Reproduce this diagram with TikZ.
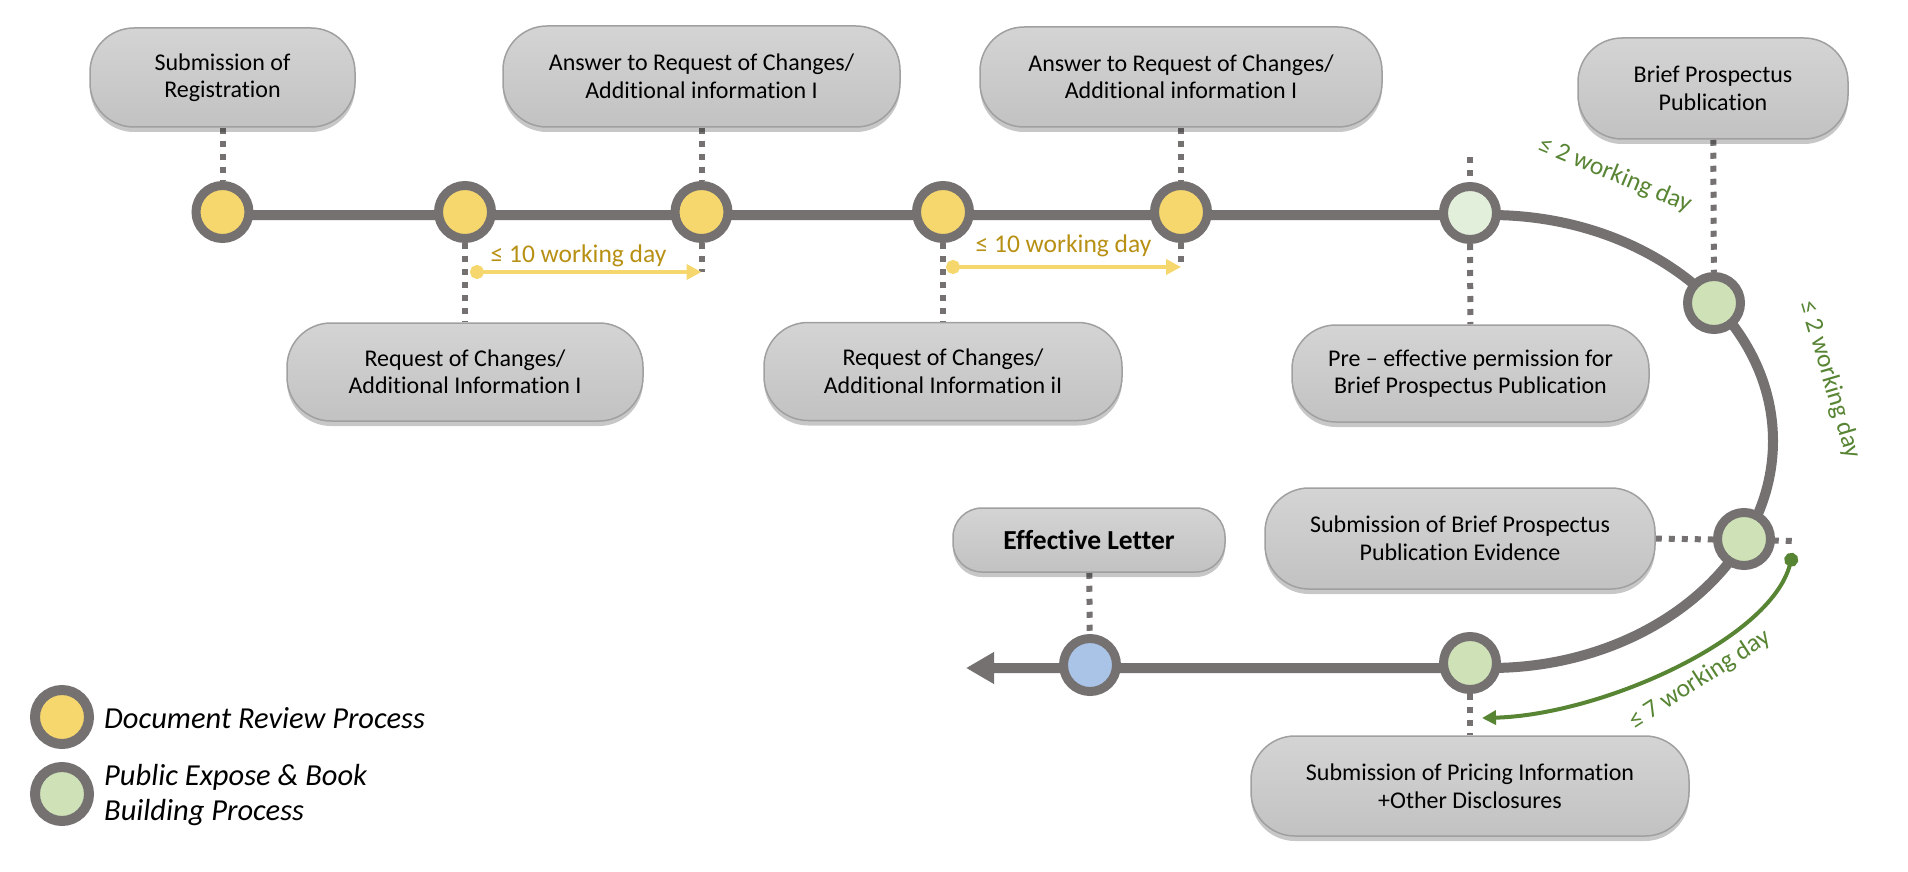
\documentclass[tikz,border=0pt]{standalone}
\usepackage{fontspec}
\setmainfont{Carlito}[Ligatures=NoCommon]
\usetikzlibrary{arrows.meta,shadows}
\definecolor{ring}{RGB}{117,113,113}
\definecolor{yel}{RGB}{245,215,110}
\definecolor{grn}{RGB}{207,225,183}
\definecolor{lgrn}{RGB}{226,239,218}
\definecolor{blu}{RGB}{170,196,232}
\definecolor{gold}{RGB}{184,144,20}
\definecolor{dgreen}{RGB}{88,133,52}
\definecolor{boxtop}{RGB}{212,212,212}
\definecolor{boxbot}{RGB}{194,194,194}
\definecolor{boxline}{RGB}{160,160,160}
\pgfdeclarelayer{back}
\pgfdeclarelayer{lines}
\pgfsetlayers{back,lines,main}
\begin{document}
\begin{tikzpicture}[x=1pt,y=-1pt,
  box/.style={rectangle, rounded corners=44pt, draw=boxline, line width=1.5pt,
    top color=boxtop, bottom color=boxbot, inner sep=0pt, align=center,
    font=\fontsize{24}{27.5}\selectfont, text=black,
    drop shadow={shadow xshift=0pt, shadow yshift=-5pt, opacity=0.22, fill=black}},
  circ/.style={circle, draw=ring, line width=9pt, minimum size=53pt, inner sep=0pt},
  legc/.style={circle, draw=ring, line width=10pt, minimum size=54pt, inner sep=0pt},
  dotl/.style={draw=ring, line width=6pt, dash pattern=on 6pt off 7pt},
  mainl/.style={draw=ring, line width=10pt, line join=round},
  yarrow/.style={draw=yel, line width=4pt, {Circle[length=14pt]}-{Triangle[length=15pt,width=15pt]}},
  garrow/.style={draw=dgreen, line width=4pt, {Circle[length=14pt]}-{Triangle[length=14pt,width=14pt]}},
  lbl/.style={font=\fontsize{25.5}{28}\selectfont, inner sep=0pt},
  legt/.style={font=\itshape\fontsize{30.5}{35}\selectfont, inner sep=0pt, anchor=west, align=left}
]
\begin{pgfonlayer}{back}
\fill[white] (0,0) rectangle (1908,872);
\end{pgfonlayer}
\useasboundingbox (0,0) rectangle (1908,872);

% boxes
\node[box, minimum width=265pt, minimum height=99pt] (b1) at (222.5,77.5) {Submission of\\Registration};
\node[box, minimum width=356pt, minimum height=98pt] (b2) at (465,372) {Request of Changes/\\Additional Information I};
\node[box, minimum width=397pt, minimum height=101pt] (b3) at (701.5,76.5) {Answer to Request of Changes/\\Additional information I};
\node[box, minimum width=358pt, minimum height=98pt] (b4) at (943,371.5) {Request of Changes/\\Additional Information iI};
\node[box, minimum width=402pt, minimum height=100pt] (b5) at (1181,77) {Answer to Request of Changes/\\Additional information I};
\node[box, minimum width=357pt, minimum height=97pt] (b6) at (1470.5,373.5) {Pre -- effective permission for\\Brief Prospectus Publication};
\node[box, minimum width=270pt, minimum height=101pt] (b7) at (1713,88.5) {Brief Prospectus\\Publication};
\node[box, minimum width=390pt, minimum height=101pt] (b8) at (1460,538.5) {Submission of Brief Prospectus\\Publication Evidence};
\node[box, minimum width=272pt, minimum height=64pt, rounded corners=29pt, font=\bfseries\fontsize{27.5}{30}\selectfont] (b9) at (1089,540) {Effective Letter};
\node[box, minimum width=438pt, minimum height=100pt] (b10) at (1470,786) {Submission of Pricing Information\\+Other Disclosures};

% milestone circles
\node[circ, fill=yel] (c1) at (222.5,212) {};
\node[circ, fill=yel] (c2) at (465,212) {};
\node[circ, fill=yel] (c3) at (701.5,212) {};
\node[circ, fill=yel] (c4) at (943,212) {};
\node[circ, fill=yel] (c5) at (1181,212) {};
\node[circ, fill=lgrn] (c6) at (1470,213) {};
\node[circ, fill=grn] (c7) at (1714,303) {};
\node[circ, fill=grn] (c8) at (1744,539) {};
\node[circ, fill=grn] (c9) at (1470,663) {};
\node[circ, fill=blu] (c10) at (1090,665) {};

% free ends
\coordinate (s3) at (701.5,272);
\coordinate (s5) at (1181,267);
\coordinate (s6) at (1470,157);
\coordinate (s8) at (1798,541);
\coordinate (y1) at (470,272);
\coordinate (y2) at (946,267);
\coordinate (g0) at (1793,553);
\coordinate (gt) at (1482,718);
\coordinate (l0) at (222.5,215);
\coordinate (l1) at (1490,215);
\coordinate (l2) at (1773,441);
\coordinate (l3) at (1490,668);
\coordinate (tip) at (966,668);

\begin{pgfonlayer}{lines}
\draw[dotl] (b1) -- (c1);
\draw[dotl] (c2) -- (b2);
\draw[dotl] (b3) -- (c3);
\draw[dotl] (c3) -- (s3);
\draw[dotl] (c4) -- (b4);
\draw[dotl] (b5) -- (c5);
\draw[dotl] (c5) -- (s5);
\draw[dotl] (s6) -- (c6);
\draw[dotl] (c6) -- (b6);
\draw[dotl] (b7) -- (c7);
\draw[dotl] (b8.east) -- (s8);
\draw[dotl] (b9) -- (c10);
\draw[dotl] (c9) -- (b10);
\draw[mainl, -{Triangle[length=28pt,width=30pt]}] (l0) -- (l1)
  .. controls (1646,215) and (1773,316) .. (l2)
  .. controls (1773,566) and (1646,668) .. (l3) -- (tip);
\draw[yarrow] (y1) -- (s3);
\draw[yarrow] (y2) -- (s5);
\draw[garrow] (g0) .. controls (1770,640) and (1600,715) .. (gt);
\end{pgfonlayer}

% labels
\node[lbl, text=gold] (t1) at (578.5,256) {≤ 10 working day};
\node[lbl, text=gold] (t2) at (1063.5,245.5) {≤ 10 working day};
\node[lbl, text=dgreen, rotate=-22.4] (t3) at (1615,175) {≤ 2 working day};
\node[lbl, text=dgreen, rotate=-73.5] (t4) at (1830,380) {≤ 2 working day};
\node[lbl, text=dgreen, rotate=33] (t5) at (1700,680) {≤ 7 working day};

% legend
\node[legc, fill=yel] (k1) at (62,717) {};
\node[legc, fill=grn] (k2) at (62,794) {};
\node[legt] (kt1) at (104,718) {Document Review Process};
\node[legt] (kt2) at (104,795) {Public Expose \& Book\\Building Process};
\end{tikzpicture}
\end{document}
